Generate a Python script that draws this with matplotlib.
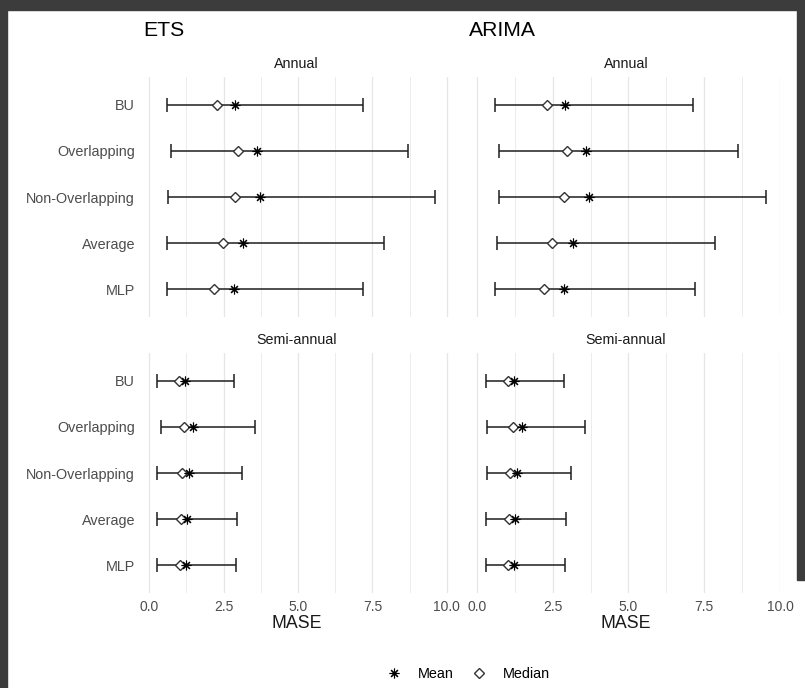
import numpy as np
import matplotlib.pyplot as plt
from matplotlib.lines import Line2D
from matplotlib.patches import Rectangle

plt.rcParams['font.family'] = ['Liberation Sans', 'DejaVu Sans']

methods = ["BU", "Overlapping", "Non-Overlapping", "Average", "MLP"]

# ETS, annual
ets_ann_low = [0.59, 0.72, 0.64, 0.59, 0.59]
ets_ann_median = [2.29, 2.99, 2.87, 2.49, 2.18]
ets_ann_mean = [2.88, 3.63, 3.72, 3.16, 2.84]
ets_ann_high = [7.17, 8.69, 9.62, 7.88, 7.17]

# ETS, semi-annual
ets_semi_low = [0.27, 0.38, 0.27, 0.27, 0.27]
ets_semi_median = [1.00, 1.18, 1.09, 1.05, 1.03]
ets_semi_mean = [1.20, 1.48, 1.33, 1.26, 1.25]
ets_semi_high = [2.84, 3.55, 3.12, 2.96, 2.93]

# ARIMA, annual
arima_ann_low = [0.60, 0.74, 0.74, 0.65, 0.60]
arima_ann_median = [2.31, 2.96, 2.88, 2.49, 2.20]
arima_ann_mean = [2.91, 3.61, 3.70, 3.16, 2.86]
arima_ann_high = [7.13, 8.62, 9.55, 7.86, 7.21]

# ARIMA, semi-annual
arima_semi_low = [0.29, 0.32, 0.32, 0.29, 0.29]
arima_semi_median = [1.03, 1.18, 1.11, 1.05, 1.03]
arima_semi_mean = [1.22, 1.48, 1.34, 1.27, 1.21]
arima_semi_high = [2.86, 3.58, 3.11, 2.94, 2.91]

W, H = 805, 688
fig = plt.figure(figsize=(W / 100, H / 100), dpi=100)

# screenshot frame
fig.patches.append(Rectangle((0, 1 - 10 / H), 1, 10 / H, transform=fig.transFigure, color='#3c3c3c', zorder=-1))
fig.patches.append(Rectangle((0, 0), 7 / W, 1, transform=fig.transFigure, color='#3c3c3c', zorder=-1))
fig.patches.append(Rectangle((797 / W, 1 - 580 / H), 8 / W, 580 / H, transform=fig.transFigure, color='#3c3c3c', zorder=-1))

grey_txt = '#4d4d4d'
ypos = np.arange(len(methods))


def px_axes(x0, x1, top, bottom):
    return fig.add_axes([x0 / W, 1 - bottom / H, (x1 - x0) / W, (bottom - top) / H])


def draw_panel(ax, low, med, mean, high, xlim, strip, show_y, show_x):
    low, med, mean, high = map(np.array, (low, med, mean, high))
    ax.errorbar(mean, ypos, xerr=[mean - low, high - mean], fmt='none',
                ecolor='#1e1e1e', elinewidth=1.1, capsize=5.3, capthick=1.1, zorder=2)
    ax.plot(med, ypos, 'D', ms=5, mfc='white', mec='#333333', mew=1.0, ls='none', zorder=3)
    ax.plot(mean, ypos, marker=(8, 2, 0), ms=7, mec='black', mew=0.8, ls='none', zorder=4)
    ax.set_xlim(xlim)
    ax.set_ylim(len(methods) - 1 + 0.6, -0.6)
    ax.set_xticks([0, 2.5, 5, 7.5, 10])
    ax.set_xticks([1.25, 3.75, 6.25, 8.75], minor=True)
    ax.grid(axis='x', which='major', color='#e6e6e6', lw=0.9)
    ax.grid(axis='x', which='minor', color='#ececec', lw=0.7)
    ax.set_axisbelow(True)
    for s in ax.spines.values():
        s.set_visible(False)
    ax.tick_params(which='both', length=0)
    ax.set_yticks(ypos)
    if show_y:
        ax.set_yticklabels(methods, fontsize=10.4, color=grey_txt)
        ax.tick_params(axis='y', pad=6)
    else:
        ax.set_yticklabels([])
    if show_x:
        ax.set_xticklabels(['0.0', '2.5', '5.0', '7.5', '10.0'], fontsize=10, color=grey_txt)
        ax.tick_params(axis='x', pad=5)
        ax.set_xlabel('MASE', fontsize=12.8, color='#1a1a1a', labelpad=1)
    else:
        ax.set_xticklabels([])
    ax.text(0.5, 1 + 13 / 240, strip, transform=ax.transAxes, ha='center', va='center',
            fontsize=10.3, color='#1a1a1a')


def exp_range(*arrs):
    lo = min(min(a) for a in arrs)
    hi = max(max(a) for a in arrs)
    d = (hi - lo) * 0.05
    return (lo - d, hi + d)


ets_lim = exp_range(ets_ann_low, ets_ann_high, ets_semi_low, ets_semi_high)
arima_lim = exp_range(arima_ann_low, arima_ann_high, arima_semi_low, arima_semi_high)

ax1 = px_axes(143.4, 449.4, 77, 317)
draw_panel(ax1, ets_ann_low, ets_ann_median, ets_ann_mean, ets_ann_high, ets_lim, 'Annual', True, False)
ax2 = px_axes(143.4, 449.4, 353, 593)
draw_panel(ax2, ets_semi_low, ets_semi_median, ets_semi_mean, ets_semi_high, ets_lim, 'Semi-annual', True, True)
ax3 = px_axes(471.6, 780.4, 77, 317)
draw_panel(ax3, arima_ann_low, arima_ann_median, arima_ann_mean, arima_ann_high, arima_lim, 'Annual', False, False)
ax4 = px_axes(471.6, 780.4, 353, 593)
draw_panel(ax4, arima_semi_low, arima_semi_median, arima_semi_mean, arima_semi_high, arima_lim, 'Semi-annual', False, True)

fig.text(143.4 / W, 1 - 31 / H, 'ETS', fontsize=15.2, color='black', ha='left', va='center')
fig.text(469 / W, 1 - 31 / H, 'ARIMA', fontsize=15.2, color='black', ha='left', va='center')

handles = [
    Line2D([], [], marker=(8, 2, 0), ms=7, mec='black', mew=0.8, ls='none'),
    Line2D([], [], marker='D', ms=5, mfc='white', mec='#333333', mew=1.0, ls='none'),
]
fig.legend(handles, ['Mean', 'Median'], loc='center', bbox_to_anchor=(467 / W, 1 - 674 / H),
           ncol=2, frameon=False, fontsize=10.4, handlelength=1.5, columnspacing=1.0, handletextpad=0.9)

fig.savefig('out.png', dpi=100)
